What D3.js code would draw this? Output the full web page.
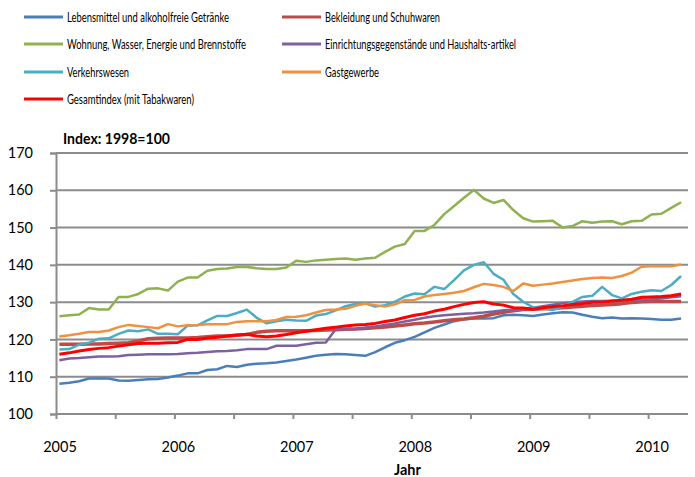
<!DOCTYPE html>
<html><head><meta charset="utf-8">
<script src="https://cdn.jsdelivr.net/npm/d3@7"></script>
<style>
html,body{margin:0;padding:0;background:#fff;}
svg{display:block;font-family:Lato,"Open Sans",sans-serif;}
</style></head>
<body><svg id="c" width="695" height="477"></svg>
<script>
// Monthly values Jan 2005 .. Apr 2010 (64 months)
const yearLabels = ["2005","2006","2007","2008","2009","2010"];
const yTicks = [100,110,120,130,140,150,160,170];

const lebensmittel = [108.1,108.4,108.8,109.5,109.5,109.5,109.0,108.9,109.1,109.3,109.4,109.8,110.3,110.9,110.9,111.8,112.0,112.9,112.6,113.2,113.5,113.6,113.8,114.2,114.6,115.1,115.6,115.9,116.1,116.0,115.8,115.6,116.6,117.9,119.1,119.8,120.7,121.9,123.1,124.0,124.9,125.4,125.6,125.6,125.7,126.5,126.6,126.5,126.3,126.7,127.0,127.3,127.2,126.6,126.1,125.7,125.9,125.6,125.7,125.6,125.5,125.3,125.3,125.6];
const bekleidung = [118.7,118.7,118.7,118.8,118.8,118.9,119.0,119.1,119.6,120.2,120.3,120.4,120.4,120.4,120.5,120.7,120.9,120.9,121.1,121.3,121.9,122.2,122.3,122.3,122.3,122.3,122.4,122.5,122.6,122.7,122.8,122.9,123.1,123.3,123.6,123.9,124.2,124.4,124.7,125.0,125.3,125.5,125.8,126.2,126.8,127.3,127.7,128.0,128.1,128.2,128.3,128.5,128.7,128.9,129.1,129.2,129.4,129.6,129.9,130.1,130.2,130.2,130.2,130.2];
const wohnung = [126.2,126.5,126.7,128.4,128.0,128.0,131.4,131.4,132.2,133.6,133.7,133.1,135.5,136.6,136.6,138.4,138.9,139.0,139.4,139.4,139.1,138.9,138.9,139.3,141.1,140.8,141.2,141.4,141.6,141.7,141.4,141.7,141.9,143.5,144.9,145.6,149.1,149.1,150.7,153.6,155.8,158.0,160.1,157.8,156.6,157.4,154.7,152.5,151.6,151.7,151.8,150.0,150.4,151.7,151.3,151.6,151.7,150.9,151.7,151.8,153.5,153.7,155.3,156.8];
const einrichtung = [114.4,114.9,115.0,115.2,115.4,115.4,115.5,115.8,115.9,116.0,116.0,116.0,116.1,116.3,116.4,116.6,116.8,116.9,117.1,117.4,117.4,117.4,118.3,118.3,118.3,118.7,119.1,119.2,122.7,122.8,122.8,123.2,123.5,123.9,124.3,124.8,125.3,125.8,126.2,126.5,126.7,126.9,127.0,127.2,127.5,127.8,127.9,128.1,128.5,128.9,129.3,129.7,130.0,130.2,130.3,130.3,130.4,130.5,130.6,130.7,130.8,131.0,131.3,131.6];
const verkehr = [117.3,117.4,118.6,119.1,120.2,120.3,121.5,122.4,122.2,122.7,121.5,121.5,121.4,123.7,123.8,125.1,126.3,126.3,127.1,128.0,125.8,124.3,124.9,125.3,125.1,125.0,126.4,126.8,127.8,128.9,129.5,129.6,128.8,129.2,130.1,131.5,132.3,132.1,134.1,133.5,135.9,138.5,140.0,140.7,137.6,136.0,132.2,130.1,128.6,128.3,127.9,128.8,130.1,131.4,131.7,134.1,131.9,131.0,132.2,132.8,133.2,133.0,134.6,137.0];
const gastgewerbe = [120.8,121.1,121.5,122.0,122.0,122.4,123.3,123.9,123.6,123.3,123.0,124.1,123.5,123.8,123.9,124.1,124.1,124.1,124.7,124.9,124.9,124.9,125.2,126.0,126.1,126.5,127.2,127.9,128.0,128.2,129.0,129.6,129.2,128.8,129.4,130.5,130.6,131.5,131.9,132.2,132.5,133.0,134.0,134.9,134.6,134.1,133.0,135.0,134.4,134.7,135.0,135.4,135.8,136.2,136.5,136.6,136.5,137.0,137.9,139.5,139.6,139.6,139.6,140.1];
const gesamt = [116.0,116.4,116.9,117.3,117.6,117.8,118.2,118.6,118.9,119.0,119.0,119.1,119.2,120.0,120.0,120.4,120.6,120.9,121.2,121.4,120.9,120.7,120.9,121.3,121.8,122.2,122.6,123.0,123.3,123.6,123.9,124.0,124.3,124.8,125.2,125.9,126.5,126.9,127.6,128.1,128.8,129.4,129.9,130.1,129.5,129.2,128.5,128.4,128.1,128.5,128.8,129.0,129.4,129.6,130.0,130.0,130.3,130.5,130.8,131.3,131.4,131.5,131.7,132.2];

const seriesNames = ["Lebensmittel und alkoholfreie Getränke","Bekleidung und Schuhwaren","Wohnung, Wasser, Energie und Brennstoffe","Einrichtungsgegenstände und Haushalts-artikel","Verkehrswesen","Gastgewerbe","Gesamtindex (mit Tabakwaren)"];
const seriesValues = [lebensmittel, bekleidung, wohnung, einrichtung, verkehr, gastgewerbe, gesamt];
const seriesColors = ["#4A7EBB","#BE4B48","#8FB150","#7D60A0","#4BACC6","#F0913F","#FF0000"];
const seriesWidths = [2.5,3.5,2.5,2.5,2.5,2.5,3];

const svg = d3.select("#c");
const L = 56, R = 688, T = 153, B = 414;

const x = d3.scaleLinear().domain([-0.34, 63.7]).range([L, R]);
const y = d3.scaleLinear().domain([100, 170]).range([B, T]);

svg.append("g").selectAll("line").data(yTicks.filter(v => v > 100)).join("line")
  .attr("x1", L).attr("x2", R).attr("y1", d => y(d)).attr("y2", d => y(d))
  .attr("stroke", "#8c8c8c").attr("stroke-width", 2);

const yAxis = d3.axisLeft(y).tickValues(yTicks).tickSize(6).tickPadding(17).tickFormat(d3.format("d"));
const gy = svg.append("g").attr("transform", `translate(${L},0)`).call(yAxis);
gy.select(".domain").attr("stroke", "#8c8c8c").attr("stroke-width", 2);
gy.selectAll(".tick line").attr("stroke", "#8c8c8c").attr("stroke-width", 2);
gy.selectAll(".tick text").attr("font-size", 14.5).attr("fill", "#000").attr("font-family", "Lato");

const halfYearTicks = d3.range(0, 11).map(k => -0.34 + 6 * k);
const xAxis = d3.axisBottom(x).tickValues(halfYearTicks).tickSize(5).tickFormat(() => "");
const gx = svg.append("g").attr("transform", `translate(0,${B})`).call(xAxis);
gx.select(".domain").attr("stroke", "#8c8c8c").attr("stroke-width", 2).attr("d", `M${L},0H${R}`);
gx.selectAll(".tick line").attr("stroke", "#8c8c8c").attr("stroke-width", 2);

svg.append("g").selectAll("text").data(yearLabels).join("text")
  .attr("x", (d, i) => x(-0.34 + 12 * i) + 4).attr("y", 452)
  .attr("text-anchor", "middle").attr("font-size", 14.5).attr("font-family", "Lato")
  .text(d => d);

const line = d3.line().x((d, i) => x(i)).y(d => y(d));
svg.append("g").selectAll("path").data(seriesValues).join("path")
  .attr("d", d => line(d)).attr("fill", "none")
  .attr("stroke", (d, i) => seriesColors[i]).attr("stroke-width", (d, i) => seriesWidths[i])
  .attr("stroke-linejoin", "round");

svg.append("text").attr("x", 63).attr("y", 144).attr("font-size", 14.5).attr("font-weight", "bold")
  .attr("font-family", "Lato").attr("textLength", 107).attr("lengthAdjust", "spacingAndGlyphs").text("Index: 1998=100");
svg.append("text").attr("x", 407.5).attr("y", 475).attr("text-anchor", "middle").attr("font-size", 14.5)
  .attr("font-weight", "bold").attr("font-family", "Lato").text("Jahr");

const legendPos = [[24,17],[282,17],[24,44],[282,44],[24,72],[282,72],[24,99]];
const legendWidths = [162,115,179,191,62,54,127];
const lg = svg.append("g").selectAll("g").data(seriesNames).join("g")
  .attr("transform", (d, i) => `translate(${legendPos[i][0]},${legendPos[i][1]})`);
lg.append("line").attr("x1", 0).attr("x2", 39).attr("y1", 0).attr("y2", 0)
  .attr("stroke", (d, i) => seriesColors[i]).attr("stroke-width", 3);
lg.append("text").attr("x", 43).attr("y", 5).attr("font-size", 13.5).attr("font-family", "Lato")
  .attr("textLength", (d, i) => legendWidths[i]).attr("lengthAdjust", "spacingAndGlyphs").text(d => d);
</script></body></html>
